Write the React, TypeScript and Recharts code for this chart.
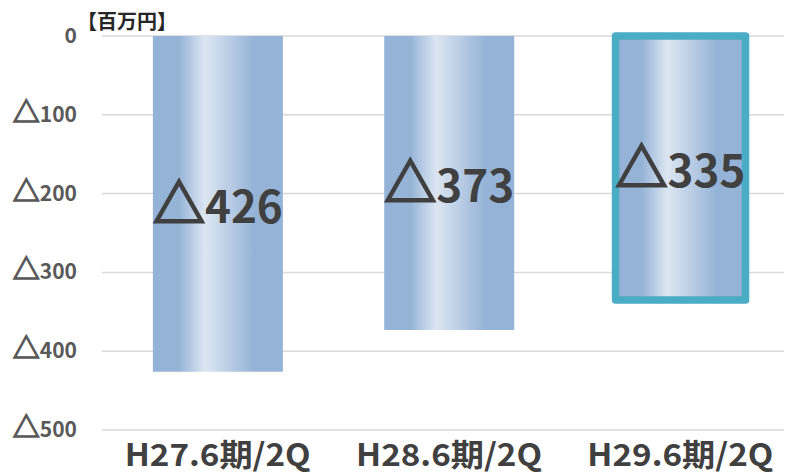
import { Bar, BarChart, CartesianGrid, Cell, LabelList, XAxis, YAxis } from 'recharts'

const categories = ['H27.6期/2Q', 'H28.6期/2Q', 'H29.6期/2Q']
const values = [-426, -373, -335]
const yTicks = [0, -100, -200, -300, -400, -500]
const highlighted = [false, false, true]

const data = categories.map((name, i) => ({ name, value: values[i] }))

const FONT = '"Noto Sans CJK JP", "Noto Sans", sans-serif'

// negative numbers are shown with a leading triangle, Japanese style
const Tri = ({ size, color, sw }: { size: number; color: string; sw: number }) => (
  <tspan fontSize={size} stroke={color} strokeWidth={sw}>
    △
  </tspan>
)

const YTick = (props: any) => {
  const { x, y, payload } = props
  const v = payload.value
  return (
    <text
      x={x}
      y={y}
      dy={7}
      textAnchor="end"
      fontFamily={FONT}
      fontWeight={700}
      fontSize={21}
      fill="#595959"
    >
      {v !== 0 && <Tri size={27} color="#595959" sw={1.3} />}
      {Math.abs(v)}
    </text>
  )
}

const XTick = (props: any) => {
  const { x, y, payload } = props
  return (
    <text
      x={x}
      y={y + 28}
      textAnchor="middle"
      fontFamily={FONT}
      fontWeight={700}
      fontSize={31}
      fill="#404040"
      textLength={186}
      lengthAdjust="spacingAndGlyphs"
    >
      {payload.value}
    </text>
  )
}

const BarLabel = (props: any) => {
  const { x, y, width, height, value } = props
  return (
    <text
      x={x + width / 2}
      y={y + height / 2 + 19}
      textAnchor="middle"
      fontFamily={FONT}
      fontWeight={700}
      fontSize={44}
      fill="#404040"
    >
      <Tri size={52} color="#404040" sw={2.2} />
      {Math.abs(value)}
    </text>
  )
}

export default function App() {
  return (
    <div style={{ width: 792, height: 474, margin: '-8px 0 0 -8px', overflow: 'hidden' }}>
      <BarChart
        width={796}
        height={474}
        data={data}
        margin={{ top: 36, right: 0, left: 0, bottom: 0 }}
        barCategoryGap="22%"
      >
        <defs>
          <linearGradient id="barGrad" x1="0" y1="0" x2="1" y2="0">
            <stop offset="0%" stopColor="#95b3d7" />
            <stop offset="20%" stopColor="#95b3d7" />
            <stop offset="40%" stopColor="#dce6f2" />
            <stop offset="78%" stopColor="#95b3d7" />
            <stop offset="100%" stopColor="#95b3d7" />
          </linearGradient>
        </defs>
        <CartesianGrid vertical={false} stroke="#d9d9d9" strokeWidth={1.5} />
        <XAxis
          dataKey="name"
          axisLine={false}
          tickLine={false}
          height={44}
          interval={0}
          tick={<XTick />}
        />
        <YAxis
          type="number"
          domain={[-500, 0]}
          ticks={yTicks}
          axisLine={false}
          tickLine={false}
          tickSize={0}
          tickMargin={25}
          width={102}
          tick={<YTick />}
        />
        <Bar dataKey="value" fill="url(#barGrad)" isAnimationActive={false}>
          {data.map((d, i) => (
            <Cell
              key={d.name}
              fill="url(#barGrad)"
              stroke={highlighted[i] ? '#4bacc6' : 'none'}
              strokeWidth={highlighted[i] ? 7.5 : 0}
              strokeLinejoin="round"
            />
          ))}
          <LabelList dataKey="value" content={<BarLabel />} />
        </Bar>
        <text x={77} y={29} fontFamily={FONT} fontWeight={700} fontSize={20} fill="#262626">
          【百万円】
        </text>
      </BarChart>
    </div>
  )
}
